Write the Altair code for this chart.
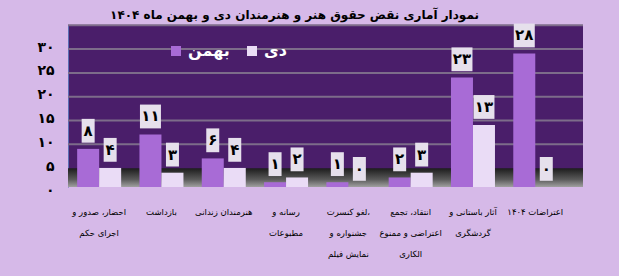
import altair as alt
import pandas as pd

# ---- data ----
cat_lines = [
    ["احضار، صدور و", "اجرای حکم"],
    ["بازداشت"],
    ["هنرمندان زندانی"],
    ["رسانه و", "مطبوعات"],
    ["لغو کنسرت،", "جشنواره و", "نمایش فیلم"],
    ["انتقاد، تجمع", "اعتراضی و ممنوع", "الکاری"],
    ["آثار باستانی و", "گردشگری"],
    ["اعتراضات ۱۴۰۴"],
]
categories = ["|".join(l) for l in cat_lines]
series = ["بهمن", "دی"]
bahman = [8, 11, 6, 1, 1, 2, 23, 28]
dey = [4, 3, 4, 2, 0, 3, 13, 0]
y_ticks = [0, 5, 10, 15, 20, 25, 30]
title_text = "نمودار آماری نقض حقوق هنر و هنرمندان دی و بهمن ماه ۱۴۰۴"

FA = str.maketrans("0123456789", "۰۱۲۳۴۵۶۷۸۹")
def fa(v):
    return str(v).translate(FA)

rows = []
for c, b, d in zip(categories, bahman, dey):
    rows.append({"cat": c, "series": series[0], "value": b, "fa": fa(b)})
    rows.append({"cat": c, "series": series[1], "value": d, "fa": fa(d)})
df = pd.DataFrame(rows)
grid_df = pd.DataFrame({"tick": y_ticks[1:]})

FONT = "DejaVu Sans"
DEPTH = 3.95  # back-wall offset (3D look)

ylabel_expr = " : ".join(f"datum.value == {t} ? '{fa(t)}'" for t in y_ticks) + " : ''"

yscale = alt.Scale(domain=[0, 34], nice=False)
yaxis = alt.Axis(title=None, values=y_ticks, labelExpr=ylabel_expr,
                 grid=False, ticks=False, labelFontSize=14,
                 labelFontWeight="bold", labelColor="black",
                 labelFont=FONT, labelPadding=14, labelOverlap=False,
                 labelOffset=3, domainColor="#5a6fb5", domainWidth=1)
xenc = alt.X(
    "cat:N", sort=categories,
    scale=alt.Scale(paddingInner=0, paddingOuter=0.133, align=0),
    axis=alt.Axis(title=None, labelAngle=0, ticks=False, domain=False,
                  labelExpr="split(datum.label, '|')", labelFontSize=8.5,
                  labelLineHeight=21, labelPadding=20, labelColor="black",
                  labelFont=FONT, labelLimit=200),
)
xoff = alt.XOffset("series:N", sort=series,
                   scale=alt.Scale(paddingInner=0, paddingOuter=0.416))

floor = alt.Chart(pd.DataFrame({"a": [0]})).mark_rect(
    color=alt.Gradient(gradient="linear", x1=0, x2=0, y1=0, y2=1,
                       stops=[alt.GradientStop(color="#1c1c1c", offset=0),
                              alt.GradientStop(color="#5a5a5a", offset=0.6),
                              alt.GradientStop(color="#a0a0a0", offset=1)])
).encode(x=alt.value(0), x2=alt.value("width"),
         y=alt.Y(datum=0, scale=yscale, axis=yaxis), y2=alt.datum(DEPTH))

grid = alt.Chart(grid_df).transform_calculate(
    back=f"datum.tick + {DEPTH}"
).mark_rule(color="#7d6c8a", strokeWidth=2).encode(
    y=alt.Y("back:Q", scale=yscale, axis=yaxis)
)

bars = alt.Chart(df).mark_bar().encode(
    x=xenc, xOffset=xoff,
    y=alt.Y("value:Q", scale=yscale, axis=yaxis),
    color=alt.Color("series:N", sort=series,
                    scale=alt.Scale(domain=series, range=["#a86bd6", "#eadcf6"]),
                    legend=alt.Legend(title=None, orient="none", legendX=100,
                                      legendY=18, direction="horizontal",
                                      labelColor="white", labelFontSize=16,
                                      labelFontWeight="bold", labelFont=FONT,
                                      symbolType="square", symbolSize=100,
                                      symbolStrokeWidth=0, columnPadding=14)),
)

base_box = alt.Chart(df).transform_calculate(
    lo="datum.value + 1.3", hi="datum.value + 6.3", mid="datum.value + 3.8"
)
box_small = base_box.transform_filter("datum.value < 10").mark_bar(
    width=13, color="#e6e0ec").encode(x=xenc, xOffset=xoff,
                                      y=alt.Y("lo:Q", scale=yscale, axis=yaxis), y2="hi:Q")
box_big = base_box.transform_filter("datum.value >= 10").mark_bar(
    width=21, color="#e6e0ec").encode(x=xenc, xOffset=xoff,
                                      y=alt.Y("lo:Q", scale=yscale, axis=yaxis), y2="hi:Q")
labels = base_box.mark_text(fontSize=15, fontWeight="bold", color="black",
                            font=FONT, baseline="middle").encode(
    x=xenc, xOffset=xoff, y=alt.Y("mid:Q", scale=yscale, axis=yaxis), text="fa:N")

chart = alt.layer(floor, grid, bars, box_small, box_big, labels).properties(
    width=515, height=162,
    title=alt.TitleParams(title_text, fontSize=12, font=FONT, fontWeight="bold",
                          color="black", anchor="middle", dx=-31, offset=2),
    autosize=alt.AutoSizeParams(type="none"),
    padding={"left": 68, "top": 25, "right": 36, "bottom": 89},
).configure(background="#d6b9e8").configure_view(fill="#4a1e6a", stroke=None)

chart.save("out.html", embed_options={"renderer": "svg", "actions": False})
